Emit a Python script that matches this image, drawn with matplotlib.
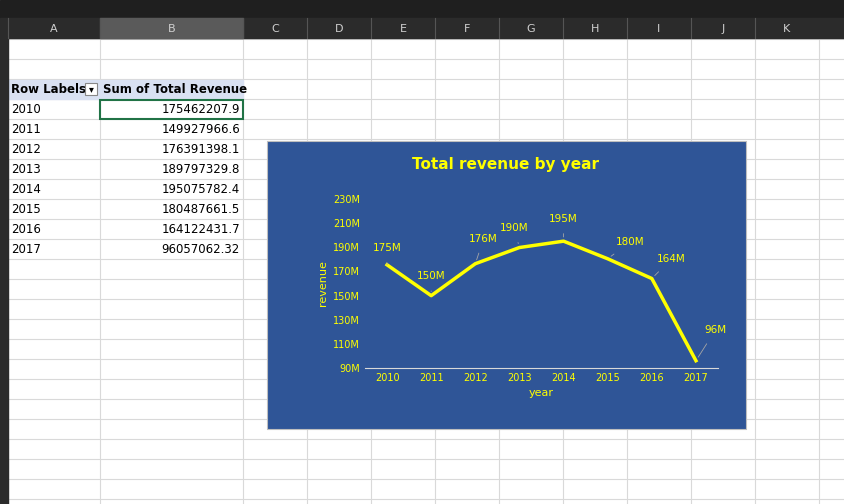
import numpy as np
import matplotlib.pyplot as plt
from matplotlib.patches import Rectangle

years = [2010, 2011, 2012, 2013, 2014, 2015, 2016, 2017]
revenue = [175462207.9, 149927966.6, 176391398.1, 189797329.8,
           195075782.4, 180487661.5, 164122431.7, 96057062.32]
rev_text = ['175462207.9', '149927966.6', '176391398.1', '189797329.8',
            '195075782.4', '180487661.5', '164122431.7', '96057062.32']
labels = ['175M', '150M', '176M', '190M', '195M', '180M', '164M', '96M']
label_off = [(0, 12), (0, 14), (6, 18), (-4, 14), (0, 16), (16, 12), (14, 14), (14, 22)]
yticks = [90, 110, 130, 150, 170, 190, 210, 230]

col_names = ['A', 'B', 'C', 'D', 'E', 'F', 'G', 'H', 'I', 'J', 'K']
col_edges = [8, 100, 243, 307, 371, 435, 499, 563, 627, 691, 755, 819]

W, H = 844, 504
fig = plt.figure(figsize=(W / 100, H / 100), dpi=100)
bg = fig.add_axes([0, 0, 1, 1])
bg.set_xlim(0, W)
bg.set_ylim(H, 0)
bg.axis('off')
bg.add_patch(Rectangle((0, 0), W, H, color='white', zorder=0))

# grid lines
for y in range(39, H, 20):
    bg.plot([8, W], [y, y], color='#d9d9d9', lw=0.8, zorder=1)
for x in col_edges:
    bg.plot([x, x], [38, H], color='#d9d9d9', lw=0.8, zorder=1)

# top bars
bg.add_patch(Rectangle((0, 0), W, 18, color='#1f1f1f', zorder=3))
bg.add_patch(Rectangle((0, 18), W, 20, color='#2b2b2b', zorder=3))
bg.add_patch(Rectangle((0, 38), 8, H, color='#2b2b2b', zorder=3))
bg.add_patch(Rectangle((100, 18), 143, 20, color='#5a5a5a', zorder=3))
for i, c in enumerate(col_names):
    bg.text((col_edges[i] + col_edges[i + 1]) / 2, 29, c, color='#d0d0d0',
            ha='center', va='center', fontsize=8, zorder=4)
    bg.plot([col_edges[i], col_edges[i]], [18, 38], color='#555555', lw=0.8, zorder=4)

# pivot table
bg.add_patch(Rectangle((8, 80), 235, 19, color='#d9e1f2', zorder=2))
bg.text(11, 89.5, 'Row Labels', fontsize=8.5, fontweight='bold', va='center', zorder=4)
bg.add_patch(Rectangle((85, 83), 12, 12, facecolor='white', edgecolor='#888888', lw=0.8, zorder=4))
bg.text(91, 89, '▾', fontsize=7, ha='center', va='center', zorder=5)
bg.text(103, 89.5, 'Sum of Total Revenue', fontsize=8.5, fontweight='bold', va='center', zorder=4)
for i, (yr, t) in enumerate(zip(years, rev_text)):
    yy = 109.5 + 20 * i
    bg.text(11, yy, str(yr), fontsize=8.5, va='center', zorder=4)
    bg.text(240, yy, t, fontsize=8.5, va='center', ha='right', zorder=4)
bg.add_patch(Rectangle((100, 100), 143, 19, fill=False, edgecolor='#217346', lw=1.5, zorder=4))

# chart box
bg.add_patch(Rectangle((267, 141), 479, 288, facecolor='#2f5597', edgecolor='#bfbfbf',
                       lw=0.8, zorder=6))
bg.text(506, 164, 'Total revenue by year', color='#ffff00', fontsize=11,
        fontweight='bold', ha='center', va='center', zorder=7)

ax = fig.add_axes([365 / W, (H - 368) / H, 353 / W, 169 / H])
ax.patch.set_alpha(0)
vals = np.array(revenue) / 1e6
ax.plot(years, vals, color='#ffff00', lw=2.5)
ax.set_xlim(2009.5, 2017.5)
ax.set_ylim(90, 230)
ax.set_yticks(yticks)
ax.set_yticklabels([f'{v}M' for v in yticks])
ax.set_xticks(years)
ax.tick_params(colors='#ffff00', labelsize=7, length=0)
for s in ['top', 'right', 'left']:
    ax.spines[s].set_visible(False)
ax.spines['bottom'].set_color('#d9d9d9')
ax.set_xlabel('year', color='#ffff00', fontsize=8)
ax.set_ylabel('revenue', color='#ffff00', fontsize=8)
for x, v, lab, off in zip(years, vals, labels, label_off):
    ax.annotate(lab, (x, v), xytext=off, textcoords='offset points',
                color='#ffff00', fontsize=7.5, ha='center', va='center',
                arrowprops=dict(arrowstyle='-', color='#a6a6a6', lw=0.6, shrinkA=5, shrinkB=3))

fig.savefig('out.png', dpi=100)
